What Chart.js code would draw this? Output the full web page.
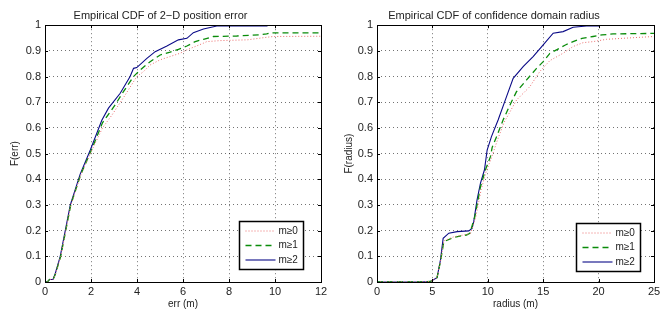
<!DOCTYPE html>
<html>
<head>
<meta charset="utf-8">
<script src="https://cdn.jsdelivr.net/npm/chart.js@4.4.0/dist/chart.umd.min.js"></script>
<style>
  html, body { margin: 0; padding: 0; background: #fff; }
  .wrap { position: absolute; top: 0; width: 334px; height: 312px; }
</style>
</head>
<body>
<div class="wrap" style="left:0"><canvas id="errChart" width="334" height="312"></canvas></div>
<div class="wrap" style="left:334px"><canvas id="radChart" width="334" height="312"></canvas></div>
<script>
// Series labels
const seriesLabels = ['m\u22650', 'm\u22651', 'm\u22652'];

// Left: 2-D position error CDF (err in m)
const errX_m0 = [0, 0.1, 0.2, 0.35, 0.45, 0.68, 1.12, 1.57, 2.02, 2.5, 2.91, 3.5, 3.99, 4.28, 4.57, 5.0, 5.44, 5.88, 6.17, 6.89, 7.03, 7.61, 8.8, 9.64, 9.92, 12];
const errY_m0 = [0, 0, 0.01, 0.01, 0.03, 0.099, 0.30, 0.42, 0.51, 0.60, 0.65, 0.73, 0.80, 0.819, 0.845, 0.865, 0.878, 0.891, 0.904, 0.930, 0.936, 0.940, 0.943, 0.953, 0.956, 0.957];
const errX_m1 = [0, 0.1, 0.2, 0.35, 0.45, 0.68, 1.12, 1.56, 2.0, 2.11, 2.5, 3.05, 3.41, 3.85, 4.14, 4.57, 5.01, 5.44, 5.80, 6.17, 6.53, 6.89, 7.32, 8.34, 9.35, 9.64, 9.78, 12];
const errY_m1 = [0, 0, 0.01, 0.01, 0.03, 0.099, 0.30, 0.42, 0.51, 0.534, 0.62, 0.69, 0.741, 0.80, 0.826, 0.858, 0.884, 0.895, 0.906, 0.919, 0.936, 0.945, 0.956, 0.958, 0.963, 0.966, 0.970, 0.970];
const errX_m2 = [0, 0.1, 0.2, 0.35, 0.45, 0.66, 1.1, 1.53, 1.97, 2.47, 2.76, 3.27, 3.70, 3.85, 3.99, 4.43, 4.79, 5.30, 5.80, 6.17, 6.45, 6.89, 7.47, 9.64, 9.65, 12];
const errY_m2 = [0, 0, 0.01, 0.01, 0.034, 0.099, 0.30, 0.42, 0.514, 0.63, 0.677, 0.735, 0.80, 0.832, 0.835, 0.871, 0.897, 0.919, 0.943, 0.949, 0.971, 0.985, 0.997, 0.997, 1, 1];
const errTicksX = [0, 2, 4, 6, 8, 10, 12];

// Right: confidence domain radius CDF (radius in m)
const radX_m0 = [0, 3.86, 4.82, 5.42, 5.73, 6.03, 6.93, 8.07, 8.45, 8.9, 9.4, 9.85, 10.3, 10.85, 11.45, 12.6, 13.8, 14.7, 15.6, 16.8, 17.7, 18.6, 19.5, 20.7, 22.2, 25];
const radY_m0 = [0, 0, 0.002, 0.017, 0.08, 0.16, 0.176, 0.185, 0.19, 0.25, 0.36, 0.43, 0.48, 0.55, 0.62, 0.709, 0.761, 0.82, 0.862, 0.891, 0.917, 0.932, 0.936, 0.945, 0.949, 0.956];
const radX_m1 = [0, 3.86, 4.82, 5.42, 5.73, 6.03, 6.93, 8.07, 8.38, 8.83, 9.34, 9.79, 10.24, 10.4, 10.79, 11.38, 12.14, 12.59, 13.5, 14.4, 15.0, 15.6, 16.2, 17.0, 17.7, 18.5, 19.5, 20.3, 21.3, 25];
const radY_m1 = [0, 0, 0.002, 0.017, 0.08, 0.157, 0.174, 0.183, 0.19, 0.254, 0.371, 0.437, 0.488, 0.525, 0.566, 0.631, 0.702, 0.741, 0.787, 0.832, 0.858, 0.89, 0.904, 0.923, 0.936, 0.949, 0.956, 0.962, 0.966, 0.968];
const radX_m2 = [0, 3.86, 4.82, 5.42, 5.73, 5.97, 6.48, 7.23, 8.28, 8.58, 8.73, 9.03, 9.34, 9.70, 9.94, 10.33, 10.93, 11.69, 12.29, 13.19, 14.09, 15.0, 15.9, 16.8, 17.7, 18.9, 19.97, 20.0, 25];
const radY_m2 = [0, 0, 0.002, 0.017, 0.086, 0.17, 0.19, 0.196, 0.199, 0.209, 0.235, 0.32, 0.385, 0.437, 0.514, 0.566, 0.631, 0.722, 0.793, 0.839, 0.878, 0.923, 0.969, 0.975, 0.992, 0.997, 0.997, 1, 1];
const radTicksX = [0, 5, 10, 15, 20, 25];

const yTicks = [0, 0.1, 0.2, 0.3, 0.4, 0.5, 0.6, 0.7, 0.8, 0.9, 1];

const FONT = '"Liberation Sans", Arial, Helvetica, sans-serif';
const TXT = '#222';

function pts(xs, ys) {
  return xs.map((x, i) => ({ x: x, y: ys[i] }));
}

function makeSets(x0, y0, x1, y1, x2, y2) {
  return [
    { label: seriesLabels[0], data: pts(x0, y0), borderColor: 'rgb(235,110,110)', borderWidth: 1, borderDash: [1, 2] },
    { label: seriesLabels[1], data: pts(x1, y1), borderColor: 'rgb(10,140,10)', borderWidth: 1.3, borderDash: [6, 4] },
    { label: seriesLabels[2], data: pts(x2, y2), borderColor: 'rgb(10,10,135)', borderWidth: 1.1 }
  ].map(d => Object.assign(d, { showLine: true, pointRadius: 0, fill: false, tension: 0 }));
}

// box, inward ticks and legend drawn after the chart
const matlabFrame = {
  id: 'matlabFrame',
  afterDraw(chart, args, opts) {
    const ctx = chart.ctx;
    const a = chart.chartArea;
    const xs = chart.scales.x, ys = chart.scales.y;
    ctx.save();
    ctx.strokeStyle = '#000';
    ctx.lineWidth = 1;
    ctx.beginPath();
    opts.xTicks.forEach(v => {
      const p = Math.round(xs.getPixelForValue(v)) + 0.5;
      ctx.moveTo(p, a.bottom); ctx.lineTo(p, a.bottom - 3);
      ctx.moveTo(p, a.top); ctx.lineTo(p, a.top + 3);
    });
    yTicks.forEach(v => {
      const p = Math.round(ys.getPixelForValue(v)) + 0.5;
      ctx.moveTo(a.left, p); ctx.lineTo(a.left + 3, p);
      ctx.moveTo(a.right, p); ctx.lineTo(a.right - 3, p);
    });
    ctx.stroke();
    ctx.strokeRect(Math.round(a.left) + 0.5, Math.round(a.top) + 0.5, Math.round(a.right - a.left), Math.round(a.bottom - a.top));

    // legend
    const bw = 64, bh = 48;
    const bx = Math.round(a.right - opts.legRight - bw) + 0.5;
    const by = Math.round(a.bottom - opts.legBottom - bh) + 0.5;
    ctx.fillStyle = '#fff';
    ctx.fillRect(bx, by, bw, bh);
    ctx.lineWidth = 1.5;
    ctx.strokeStyle = '#000';
    ctx.strokeRect(bx, by, bw, bh);
    ctx.font = '10px ' + FONT;
    ctx.textBaseline = 'middle';
    ctx.textAlign = 'left';
    chart.data.datasets.forEach((ds, i) => {
      const ly = by + 9.5 + i * 14.5;
      ctx.save();
      ctx.strokeStyle = ds.borderColor;
      ctx.lineWidth = ds.borderWidth;
      ctx.setLineDash(ds.borderDash || []);
      ctx.beginPath();
      ctx.moveTo(bx + 6, ly); ctx.lineTo(bx + 36, ly);
      ctx.stroke();
      ctx.restore();
      ctx.fillStyle = TXT;
      ctx.fillText(ds.label, bx + 39, ly);
    });
    ctx.restore();
  }
};

function makeChart(id, sets, o) {
  return new Chart(document.getElementById(id), {
    type: 'scatter',
    data: { datasets: sets },
    plugins: [matlabFrame],
    options: {
      responsive: false,
      devicePixelRatio: 1,
      animation: false,
      layout: { padding: { left: 0, right: o.padRight, top: 0, bottom: 0 } },
      plugins: {
        legend: { display: false },
        tooltip: { enabled: false },
        title: {
          display: true, text: o.title, color: TXT,
          font: { family: FONT, size: 11, weight: 'normal' },
          padding: { top: 9, bottom: 3 }
        },
        matlabFrame: { xTicks: o.xTicks, legRight: o.legRight, legBottom: o.legBottom }
      },
      scales: {
        x: {
          type: 'linear', min: 0, max: o.xTicks[o.xTicks.length - 1],
          afterBuildTicks: s => { s.ticks = o.xTicks.map(v => ({ value: v })); },
          afterFit: s => { s.height = 30; },
          ticks: { color: TXT, padding: 3, font: { family: FONT, size: 11 }, callback: v => String(v) },
          grid: { color: 'rgba(0,0,0,0.55)', lineWidth: 1, drawTicks: false },
          border: { display: false, dash: [1, 3] },
          title: { display: true, text: o.xTitle, color: TXT, font: { family: FONT, size: 10 }, padding: { top: 0, bottom: 2 } }
        },
        y: {
          type: 'linear', min: 0, max: 1,
          afterBuildTicks: s => { s.ticks = yTicks.map(v => ({ value: v })); },
          afterFit: s => { s.width = o.yWidth; },
          ticks: { color: TXT, padding: 4, font: { family: FONT, size: 11 }, callback: v => String(Math.round(v * 10) / 10) },
          grid: { color: 'rgba(0,0,0,0.55)', lineWidth: 1, drawTicks: false },
          border: { display: false, dash: [1, 3] },
          title: { display: true, text: o.yTitle, color: TXT, font: { family: FONT, size: 10 }, padding: { top: 9, bottom: 0 } }
        }
      }
    }
  });
}

makeChart('errChart', makeSets(errX_m0, errY_m0, errX_m1, errY_m1, errX_m2, errY_m2), {
  title: 'Empirical CDF of 2\u2212D position error',
  xTitle: 'err (m)', yTitle: 'F(err)', xTicks: errTicksX,
  padRight: 13, yWidth: 45, legRight: 18, legBottom: 13
});

makeChart('radChart', makeSets(radX_m0, radY_m0, radX_m1, radY_m1, radX_m2, radY_m2), {
  title: 'Empirical CDF of confidence domain radius',
  xTitle: 'radius (m)', yTitle: 'F(radius)', xTicks: radTicksX,
  padRight: 14, yWidth: 43, legRight: 14, legBottom: 11
});
</script>
</body>
</html>
